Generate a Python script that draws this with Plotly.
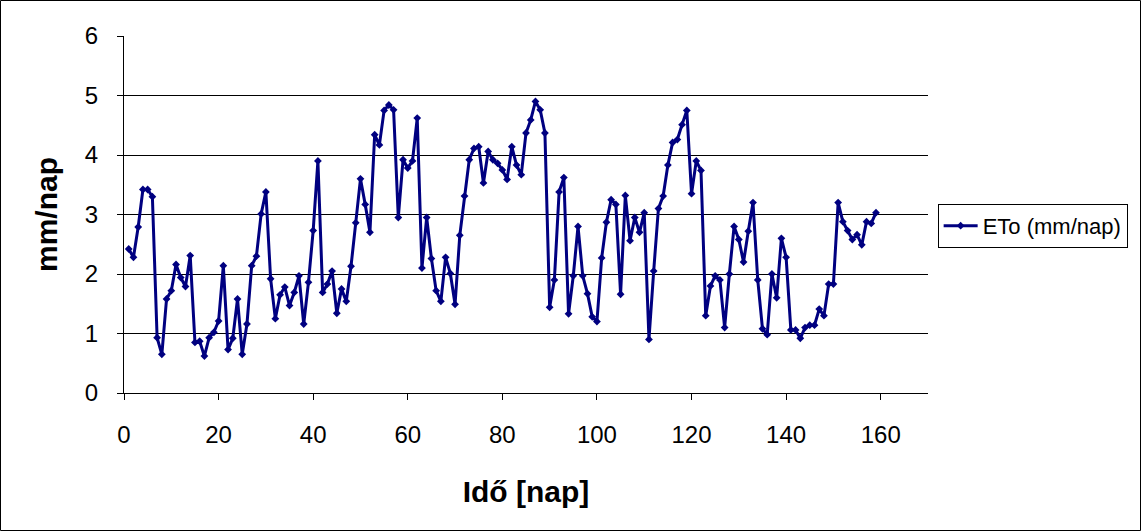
import plotly.graph_objects as go

days = list(range(1, 160))
eto = [
    2.42, 2.28, 2.79, 3.42, 3.42, 3.30, 0.93, 0.65, 1.58, 1.72,
    2.16, 1.94, 1.79, 2.31, 0.85, 0.87, 0.62, 0.93, 1.02, 1.21,
    2.14, 0.73, 0.92, 1.58, 0.65, 1.16, 2.14, 2.30, 3.01, 3.38,
    1.92, 1.25, 1.65, 1.78, 1.47, 1.69, 1.97, 1.16, 1.86, 2.73,
    3.90, 1.69, 1.83, 2.05, 1.34, 1.75, 1.54, 2.13, 2.86, 3.60,
    3.17, 2.70, 4.34, 4.17, 4.75, 4.84, 4.76, 2.95, 3.92, 3.78,
    3.90, 4.62, 2.10, 2.95, 2.26, 1.72, 1.54, 2.28, 2.01, 1.49,
    2.65, 3.31, 3.92, 4.11, 4.14, 3.53, 4.06, 3.92, 3.86, 3.75,
    3.59, 4.14, 3.83, 3.67, 4.37, 4.59, 4.90, 4.76, 4.37, 1.44,
    1.90, 3.38, 3.62, 1.33, 1.97, 2.80, 1.97, 1.67, 1.28, 1.20,
    2.27, 2.87, 3.25, 3.17, 1.66, 3.32, 2.56, 2.95, 2.70, 3.03,
    0.90, 2.05, 3.10, 3.31, 3.83, 4.21, 4.26, 4.51, 4.75, 3.35,
    3.90, 3.74, 1.30, 1.80, 1.97, 1.90, 1.10, 2.00, 2.80, 2.58,
    2.20, 2.72, 3.20, 1.90, 1.08, 0.98, 2.00, 1.60, 2.60, 2.28,
    1.06, 1.06, 0.92, 1.10, 1.14, 1.14, 1.41, 1.30, 1.83, 1.83,
    3.20, 2.88, 2.73, 2.58, 2.66, 2.49, 2.88, 2.85, 3.03,
]
series_name = "ETo (mm/nap)"
x_title = "Idő [nap]"
y_title = "mm/nap"
x_ticks = [0, 20, 40, 60, 80, 100, 120, 140, 160]
y_ticks = [0, 1, 2, 3, 4, 5, 6]

FONT = "Liberation Sans, Arial, sans-serif"

fig = go.Figure()
fig.add_trace(go.Scatter(
    x=days, y=eto, mode="lines+markers", name=series_name,
    line=dict(color="#000080", width=3),
    marker=dict(symbol="diamond", size=6, color="#000080"),
))

fig.update_layout(
    width=1141, height=531,
    margin=dict(l=124, r=213, t=36, b=138),
    paper_bgcolor="white", plot_bgcolor="white",
    font=dict(family=FONT, color="black"),
    showlegend=True,
    legend=dict(
        x=1.012, y=0.468, xanchor="left", yanchor="middle",
        bordercolor="black", borderwidth=1, bgcolor="white",
        font=dict(size=22, family=FONT),
        itemwidth=34,
        tracegroupgap=0,
    ),
    xaxis=dict(
        range=[0, 170], tickvals=x_ticks, showgrid=False, zeroline=False,
        showline=True, linecolor="black", linewidth=1,
        ticks="outside", ticklen=6, tickcolor="black",
        ticklabelstandoff=14,
        tickfont=dict(size=24, family=FONT),
        title=dict(text="<b>" + x_title + "</b>", font=dict(size=30, family=FONT), standoff=34),
    ),
    yaxis=dict(
        range=[0, 6], tickvals=y_ticks, showgrid=True, gridcolor="black", gridwidth=1,
        zeroline=False, showline=True, linecolor="black", linewidth=1,
        ticks="outside", ticklen=6, tickcolor="black",
        ticklabelstandoff=14,
        tickfont=dict(size=24, family=FONT),
        title=dict(text="<b>" + y_title + "</b>", font=dict(size=30, family=FONT), standoff=18),
    ),
    shapes=[dict(
        type="rect", xref="paper", yref="paper",
        x0=-123.5 / 804, x1=(1140.5 - 124) / 804,
        y0=(393 - 530.5) / 357, y1=(393 - 0.5) / 357,
        line=dict(color="black", width=1), fillcolor="rgba(0,0,0,0)", layer="below",
    )],
)

fig.write_html(
    "out.html",
    config={"displayModeBar": False},
    post_script="document.body.style.margin='0';document.body.style.padding='0';",
)
